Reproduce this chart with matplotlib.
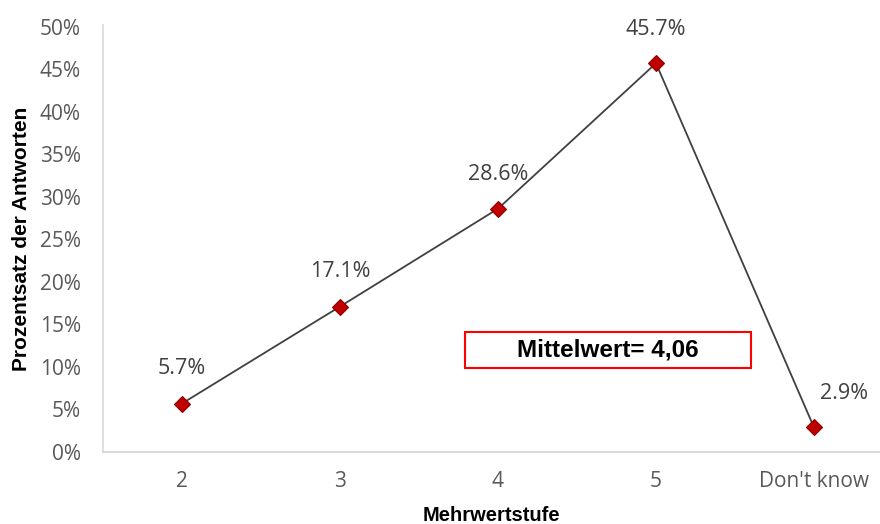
import matplotlib
matplotlib.use('Agg')
from matplotlib import pyplot as plt
from matplotlib.patches import Rectangle

categories = ['2', '3', '4', '5', "Don't know"]
percent = [5.7, 17.1, 28.6, 45.7, 2.9]
y_ticks = [0, 5, 10, 15, 20, 25, 30, 35, 40, 45, 50]
mean_text = 'Mittelwert= 4,06'

fig = plt.figure(figsize=(8.8, 5.24), dpi=100)
ax = fig.add_axes([103 / 880, 72 / 524, 777 / 880, 427 / 524])

x = list(range(len(categories)))
ax.plot(x, percent, color='#404040', linewidth=1.3, zorder=2)
ax.plot(x, percent, linestyle='none', marker='D', markersize=8.5,
        markerfacecolor='#c00000', markeredgecolor='#8b0000', markeredgewidth=0.8, zorder=3)

# value labels above each point (last one sits a bit to the right)
offsets = [(0, 25), (0, 25), (0, 25), (0, 24), (22, 24)]
for xi, v, off in zip(x, percent, offsets):
    ax.annotate(f'{v}%', (xi, v), xytext=off, textcoords='offset points',
                ha='center', va='center', fontsize=15.5, color='#404040', family='Open Sans')

ax.set_xlim(-0.5, 4.418)
ax.set_ylim(0, 50.2)
ax.set_xticks(x)
ax.set_xticklabels(categories)
ax.set_yticks(y_ticks)
ax.set_yticklabels([f'{t}%' for t in y_ticks])
for lbl in ax.get_xticklabels() + ax.get_yticklabels():
    lbl.set_family('Open Sans')
    lbl.set_fontsize(15)
    lbl.set_color('#595959')
ax.tick_params(axis='both', length=0)
ax.tick_params(axis='x', pad=14)
ax.tick_params(axis='y', pad=16)

for side in ['top', 'right']:
    ax.spines[side].set_visible(False)
ax.spines['left'].set_color('#d9d9d9')
ax.spines['bottom'].set_color('#d9d9d9')
ax.spines['left'].set_linewidth(1.2)
ax.spines['bottom'].set_linewidth(1.5)

ax.set_ylabel('Prozentsatz der Antworten', fontsize=15, fontweight='bold',
              family='Liberation Sans', color='black', labelpad=6)
ax.set_xlabel('Mehrwertstufe', fontsize=14.5, fontweight='bold',
              family='Liberation Sans', color='black', labelpad=10)

# mean value box
ax.add_patch(Rectangle((1.79, 9.85), 1.81, 4.3, fill=False, edgecolor='#ff0000',
                       linewidth=1.5, zorder=4))
ax.text(2.695, 12.0, mean_text, ha='center', va='center', fontsize=17.5,
        fontweight='bold', family='Liberation Sans', color='black', zorder=5)

plt.savefig('out.png', dpi=100)
